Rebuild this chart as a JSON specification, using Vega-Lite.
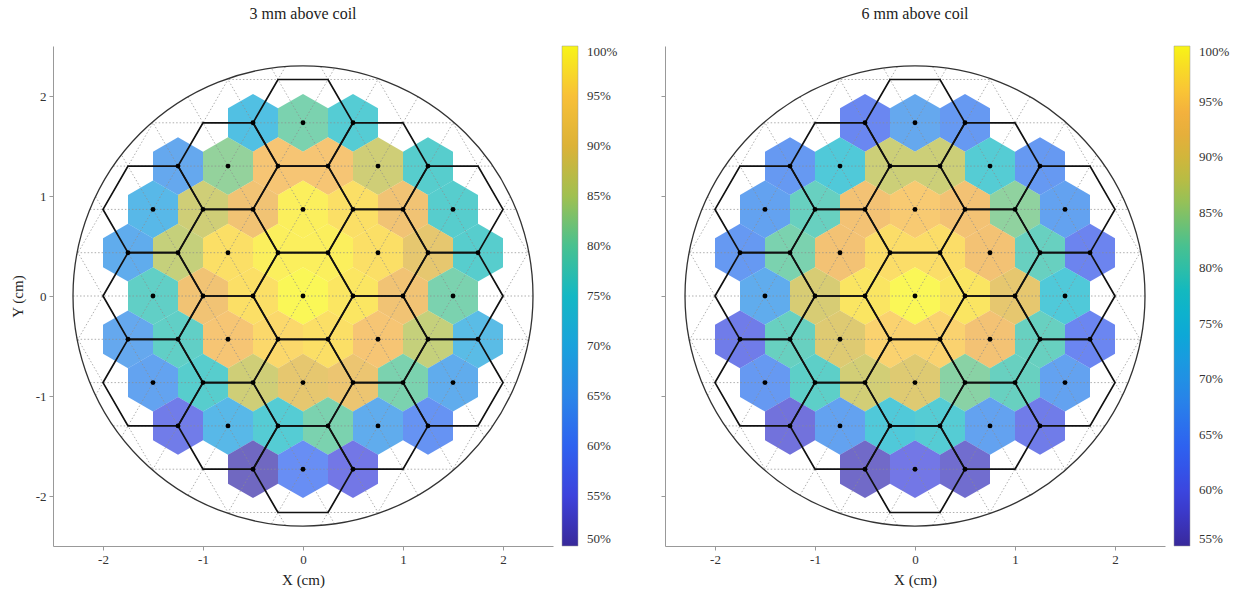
{
  "$schema": "https://vega.github.io/schema/vega-lite/v6.json",
  "background": "white",
  "padding": {"left": 10, "top": 6, "right": 5, "bottom": 5},
  "spacing": 42,
  "config": {
    "view": {"stroke": null},
    "font": "Liberation Serif",
    "axis": {"grid": false, "domainColor": "#999", "tickColor": "#999", "tickSize": 4, "labelFont": "Liberation Serif", "labelFontSize": 13, "labelColor": "#333", "titleFont": "Liberation Serif", "titleFontSize": 15, "titleFontWeight": "normal", "titleColor": "#222", "labelPadding": 3},
    "legend": {"labelFont": "Liberation Serif", "labelFontSize": 13, "labelColor": "#333"},
    "title": {"font": "Liberation Serif", "fontSize": 16, "fontWeight": "normal", "color": "#222", "anchor": "middle", "frame": "group"}
  },
  "datasets": {
    "left": [
      {"x": -0.5, "y": 1.7321, "v": 71}, {"x": 0, "y": 1.7321, "v": 80}, {"x": 0.5, "y": 1.7321, "v": 75},
      {"x": -1.25, "y": 1.299, "v": 65}, {"x": -0.75, "y": 1.299, "v": 82}, {"x": -0.25, "y": 1.299, "v": 93}, {"x": 0.25, "y": 1.299, "v": 93}, {"x": 0.75, "y": 1.299, "v": 87}, {"x": 1.25, "y": 1.299, "v": 76},
      {"x": -1.5, "y": 0.866, "v": 69}, {"x": -1, "y": 0.866, "v": 87}, {"x": -0.5, "y": 0.866, "v": 92}, {"x": 0, "y": 0.866, "v": 99}, {"x": 0.5, "y": 0.866, "v": 97}, {"x": 1, "y": 0.866, "v": 92}, {"x": 1.5, "y": 0.866, "v": 76},
      {"x": -1.75, "y": 0.433, "v": 66}, {"x": -1.25, "y": 0.433, "v": 86}, {"x": -0.75, "y": 0.433, "v": 97}, {"x": -0.25, "y": 0.433, "v": 99}, {"x": 0.25, "y": 0.433, "v": 99}, {"x": 0.75, "y": 0.433, "v": 97}, {"x": 1.25, "y": 0.433, "v": 90}, {"x": 1.75, "y": 0.433, "v": 76},
      {"x": -1.5, "y": 0, "v": 77}, {"x": -1, "y": 0, "v": 92}, {"x": -0.5, "y": 0, "v": 97}, {"x": 0, "y": 0, "v": 100}, {"x": 0.5, "y": 0, "v": 98}, {"x": 1, "y": 0, "v": 92}, {"x": 1.5, "y": 0, "v": 80},
      {"x": -1.75, "y": -0.433, "v": 65}, {"x": -1.25, "y": -0.433, "v": 77}, {"x": -0.75, "y": -0.433, "v": 93}, {"x": -0.25, "y": -0.433, "v": 96}, {"x": 0.25, "y": -0.433, "v": 97}, {"x": 0.75, "y": -0.433, "v": 93}, {"x": 1.25, "y": -0.433, "v": 86}, {"x": 1.75, "y": -0.433, "v": 70},
      {"x": -1.5, "y": -0.866, "v": 64}, {"x": -1, "y": -0.866, "v": 76}, {"x": -0.5, "y": -0.866, "v": 87}, {"x": 0, "y": -0.866, "v": 90}, {"x": 0.5, "y": -0.866, "v": 91}, {"x": 1, "y": -0.866, "v": 80}, {"x": 1.5, "y": -0.866, "v": 66},
      {"x": -1.25, "y": -1.299, "v": 56}, {"x": -0.75, "y": -1.299, "v": 69}, {"x": -0.25, "y": -1.299, "v": 75}, {"x": 0.25, "y": -1.299, "v": 80}, {"x": 0.75, "y": -1.299, "v": 66}, {"x": 1.25, "y": -1.299, "v": 61},
      {"x": -0.5, "y": -1.7321, "v": 51}, {"x": 0, "y": -1.7321, "v": 60}, {"x": 0.5, "y": -1.7321, "v": 55}
    ],
    "right": [
      {"x": -0.5, "y": 1.7321, "v": 62.7}, {"x": 0, "y": 1.7321, "v": 68.5}, {"x": 0.5, "y": 1.7321, "v": 66},
      {"x": -1.25, "y": 1.299, "v": 66}, {"x": -0.75, "y": 1.299, "v": 76.5}, {"x": -0.25, "y": 1.299, "v": 88}, {"x": 0.25, "y": 1.299, "v": 88}, {"x": 0.75, "y": 1.299, "v": 77.5}, {"x": 1.25, "y": 1.299, "v": 66},
      {"x": -1.5, "y": 0.866, "v": 67.5}, {"x": -1, "y": 0.866, "v": 80}, {"x": -0.5, "y": 0.866, "v": 93}, {"x": 0, "y": 0.866, "v": 94.5}, {"x": 0.5, "y": 0.866, "v": 93}, {"x": 1, "y": 0.866, "v": 83.5}, {"x": 1.5, "y": 0.866, "v": 67.5},
      {"x": -1.75, "y": 0.433, "v": 66}, {"x": -1.25, "y": 0.433, "v": 82}, {"x": -0.75, "y": 0.433, "v": 93}, {"x": -0.25, "y": 0.433, "v": 97}, {"x": 0.25, "y": 0.433, "v": 97}, {"x": 0.75, "y": 0.433, "v": 93}, {"x": 1.25, "y": 0.433, "v": 80}, {"x": 1.75, "y": 0.433, "v": 62},
      {"x": -1.5, "y": 0, "v": 69.5}, {"x": -1, "y": 0, "v": 89}, {"x": -0.5, "y": 0, "v": 98}, {"x": 0, "y": 0, "v": 100}, {"x": 0.5, "y": 0, "v": 98}, {"x": 1, "y": 0, "v": 91}, {"x": 1.5, "y": 0, "v": 76.5},
      {"x": -1.75, "y": -0.433, "v": 60.5}, {"x": -1.25, "y": -0.433, "v": 80}, {"x": -0.75, "y": -0.433, "v": 90}, {"x": -0.25, "y": -0.433, "v": 95.5}, {"x": 0.25, "y": -0.433, "v": 95.5}, {"x": 0.75, "y": -0.433, "v": 93}, {"x": 1.25, "y": -0.433, "v": 80}, {"x": 1.75, "y": -0.433, "v": 62.5},
      {"x": -1.5, "y": -0.866, "v": 66}, {"x": -1, "y": -0.866, "v": 79}, {"x": -0.5, "y": -0.866, "v": 88.5}, {"x": 0, "y": -0.866, "v": 90}, {"x": 0.5, "y": -0.866, "v": 83}, {"x": 1, "y": -0.866, "v": 80}, {"x": 1.5, "y": -0.866, "v": 67.5},
      {"x": -1.25, "y": -1.299, "v": 58.5}, {"x": -0.75, "y": -1.299, "v": 67.5}, {"x": -0.25, "y": -1.299, "v": 76.5}, {"x": 0.25, "y": -1.299, "v": 77.5}, {"x": 0.75, "y": -1.299, "v": 67.5}, {"x": 1.25, "y": -1.299, "v": 60.5},
      {"x": -0.5, "y": -1.7321, "v": 56.5}, {"x": 0, "y": -1.7321, "v": 59.5}, {"x": 0.5, "y": -1.7321, "v": 57}
    ],
    "coils": [
      {"x": 0, "y": 0}, {"x": 0, "y": 0.866}, {"x": 0, "y": -0.866}, {"x": 0, "y": 1.7321}, {"x": 0, "y": -1.7321},
      {"x": 0.75, "y": 0.433}, {"x": 0.75, "y": -0.433}, {"x": -0.75, "y": 0.433}, {"x": -0.75, "y": -0.433},
      {"x": 0.75, "y": 1.299}, {"x": 0.75, "y": -1.299}, {"x": -0.75, "y": 1.299}, {"x": -0.75, "y": -1.299},
      {"x": 1.5, "y": 0}, {"x": -1.5, "y": 0}, {"x": 1.5, "y": 0.866}, {"x": 1.5, "y": -0.866}, {"x": -1.5, "y": 0.866}, {"x": -1.5, "y": -0.866}
    ],
    "circ": [{"x": 0, "y": 0}],
    "segs": [
      {"x": -2.3, "y": 0, "x2": 2.3, "y2": 0},
      {"x": -2.2589, "y": 0.433, "x2": 2.2589, "y2": 0.433},
      {"x": -2.2589, "y": -0.433, "x2": 2.2589, "y2": -0.433},
      {"x": -2.1307, "y": 0.866, "x2": 2.1307, "y2": 0.866},
      {"x": -2.1307, "y": -0.866, "x2": 2.1307, "y2": -0.866},
      {"x": -1.898, "y": 1.299, "x2": 1.898, "y2": 1.299},
      {"x": -1.898, "y": -1.299, "x2": 1.898, "y2": -1.299},
      {"x": -1.5133, "y": 1.7321, "x2": 1.5133, "y2": 1.7321},
      {"x": -1.5133, "y": -1.7321, "x2": 1.5133, "y2": -1.7321},
      {"x": -0.7762, "y": 2.1651, "x2": 0.7762, "y2": 2.1651},
      {"x": -0.7762, "y": -2.1651, "x2": 0.7762, "y2": -2.1651},
      {"x": -1.15, "y": -1.9919, "x2": 1.15, "y2": 1.9919},
      {"x": -0.7545, "y": -2.1728, "x2": 1.5045, "y2": 1.7398},
      {"x": -1.5045, "y": -1.7398, "x2": 0.7545, "y2": 2.1728},
      {"x": -0.3154, "y": -2.2782, "x2": 1.8154, "y2": 1.4122},
      {"x": -1.8154, "y": -1.4122, "x2": 0.3154, "y2": 2.2782},
      {"x": 0.176, "y": -2.2932, "x2": 2.074, "y2": 0.9942},
      {"x": -2.074, "y": -0.9942, "x2": -0.176, "y2": 2.2932},
      {"x": 0.7434, "y": -2.1765, "x2": 2.2566, "y2": 0.4445},
      {"x": -2.2566, "y": -0.4445, "x2": -0.7434, "y2": 2.1765},
      {"x": 1.4869, "y": -1.7547, "x2": 2.2631, "y2": -0.4103},
      {"x": -2.2631, "y": 0.4103, "x2": -1.4869, "y2": 1.7547},
      {"x": 1.15, "y": -1.9919, "x2": -1.15, "y2": 1.9919},
      {"x": 0.7545, "y": -2.1728, "x2": -1.5045, "y2": 1.7398},
      {"x": 1.5045, "y": -1.7398, "x2": -0.7545, "y2": 2.1728},
      {"x": 0.3154, "y": -2.2782, "x2": -1.8154, "y2": 1.4122},
      {"x": 1.8154, "y": -1.4122, "x2": -0.3154, "y2": 2.2782},
      {"x": -0.176, "y": -2.2932, "x2": -2.074, "y2": 0.9942},
      {"x": 2.074, "y": -0.9942, "x2": 0.176, "y2": 2.2932},
      {"x": -0.7434, "y": -2.1765, "x2": -2.2566, "y2": 0.4445},
      {"x": 2.2566, "y": -0.4445, "x2": 0.7434, "y2": 2.1765},
      {"x": -1.4869, "y": -1.7547, "x2": -2.2631, "y2": -0.4103},
      {"x": 2.2631, "y": 0.4103, "x2": 1.4869, "y2": 1.7547}
    ]
  },
  "resolve": {"scale": {"color": "independent"}},
  "hconcat": [
    {
      "width": 500, "height": 500,
      "title": {"text": "3 mm above coil", "offset": 24},
      "layer": [
        {
          "data": {"name": "left"},
          "mark": {"type": "point", "shape": "M0,-1.1547L1,-0.57735L1,0.57735L0,1.1547L-1,0.57735L-1,-0.57735Z", "size": 2500, "filled": true, "opacity": 1, "fillOpacity": 0.72, "strokeWidth": 0},
          "encoding": {
            "x": {"field": "x", "type": "quantitative", "scale": {"domain": [-2.5, 2.5], "nice": false, "zero": false}, "axis": {"values": [-2, -1, 0, 1, 2], "labelExpr": "datum.value < 0 ? '-' + abs(datum.value) : '' + datum.value", "title": "X (cm)", "titlePadding": 6}},
            "y": {"field": "y", "type": "quantitative", "scale": {"domain": [-2.5, 2.5], "nice": false, "zero": false}, "axis": {"values": [-2, -1, 0, 1, 2], "labelExpr": "datum.value < 0 ? '-' + abs(datum.value) : '' + datum.value", "title": "Y (cm)", "titlePadding": 10}},
            "color": {"field": "v", "type": "quantitative",
              "scale": {"domain": [50, 100], "range": ["#38299a", "#3a35c0", "#3d42dc", "#3452e8", "#2e62f0", "#2c74ec", "#2a86e8", "#2294e2", "#1aa2dc", "#16aed0", "#14b8c4", "#2cbdaa", "#48c190", "#74c170", "#a0c050", "#c4ba40", "#dcb238", "#f0aa40", "#f8c038", "#f8d828", "#f8f416"]},
              "legend": {"type": "gradient", "title": null, "gradientLength": 500, "gradientThickness": 16, "values": [50, 55, 60, 65, 70, 75, 80, 85, 90, 95, 100], "labelExpr": "datum.value + '%'", "offset": 9, "labelOffset": 9, "labelBaseline": "middle", "labelOverlap": false, "gradientStrokeColor": "#999", "gradientStrokeWidth": 0.5}}
          }
        },
        {
          "data": {"name": "segs"},
          "mark": {"type": "rule", "strokeDash": [1.5, 2], "color": "#8c8c8c", "strokeWidth": 0.7},
          "encoding": {"x": {"field": "x", "type": "quantitative"}, "y": {"field": "y", "type": "quantitative"}, "x2": {"field": "x2"}, "y2": {"field": "y2"}}
        },
        {
          "data": {"name": "coils"},
          "mark": {"type": "point", "shape": "M1,0L0.5,0.86603L-0.5,0.86603L-1,0L-0.5,-0.86603L0.5,-0.86603Z", "size": 10000, "filled": false, "stroke": "#111", "strokeWidth": 1.7, "opacity": 1},
          "encoding": {"x": {"field": "x", "type": "quantitative"}, "y": {"field": "y", "type": "quantitative"}}
        },
        {
          "data": {"name": "left"},
          "mark": {"type": "point", "shape": "circle", "size": 24, "filled": true, "color": "#000", "opacity": 1},
          "encoding": {"x": {"field": "x", "type": "quantitative"}, "y": {"field": "y", "type": "quantitative"}}
        },
        {
          "data": {"name": "circ"},
          "mark": {"type": "point", "shape": "circle", "size": 211600, "filled": false, "stroke": "#333", "strokeWidth": 1.3, "opacity": 1},
          "encoding": {"x": {"field": "x", "type": "quantitative"}, "y": {"field": "y", "type": "quantitative"}}
        }
      ]
    },
    {
      "width": 500, "height": 500,
      "title": {"text": "6 mm above coil", "offset": 24},
      "layer": [
        {
          "data": {"name": "right"},
          "mark": {"type": "point", "shape": "M0,-1.1547L1,-0.57735L1,0.57735L0,1.1547L-1,0.57735L-1,-0.57735Z", "size": 2500, "filled": true, "opacity": 1, "fillOpacity": 0.72, "strokeWidth": 0},
          "encoding": {
            "x": {"field": "x", "type": "quantitative", "scale": {"domain": [-2.5, 2.5], "nice": false, "zero": false}, "axis": {"values": [-2, -1, 0, 1, 2], "labelExpr": "datum.value < 0 ? '-' + abs(datum.value) : '' + datum.value", "title": "X (cm)", "titlePadding": 6}},
            "y": {"field": "y", "type": "quantitative", "scale": {"domain": [-2.5, 2.5], "nice": false, "zero": false}, "axis": {"values": [-2, -1, 0, 1, 2], "labels": false, "title": null}},
            "color": {"field": "v", "type": "quantitative",
              "scale": {"domain": [55, 100], "range": ["#38299a", "#3a35c0", "#3d42dc", "#3452e8", "#2e62f0", "#2c74ec", "#2a86e8", "#2294e2", "#1aa2dc", "#16aed0", "#14b8c4", "#2cbdaa", "#48c190", "#74c170", "#a0c050", "#c4ba40", "#dcb238", "#f0aa40", "#f8c038", "#f8d828", "#f8f416"]},
              "legend": {"type": "gradient", "title": null, "gradientLength": 500, "gradientThickness": 16, "values": [55, 60, 65, 70, 75, 80, 85, 90, 95, 100], "labelExpr": "datum.value + '%'", "offset": 9, "labelOffset": 9, "labelBaseline": "middle", "labelOverlap": false, "gradientStrokeColor": "#999", "gradientStrokeWidth": 0.5}}
          }
        },
        {
          "data": {"name": "segs"},
          "mark": {"type": "rule", "strokeDash": [1.5, 2], "color": "#8c8c8c", "strokeWidth": 0.7},
          "encoding": {"x": {"field": "x", "type": "quantitative"}, "y": {"field": "y", "type": "quantitative"}, "x2": {"field": "x2"}, "y2": {"field": "y2"}}
        },
        {
          "data": {"name": "coils"},
          "mark": {"type": "point", "shape": "M1,0L0.5,0.86603L-0.5,0.86603L-1,0L-0.5,-0.86603L0.5,-0.86603Z", "size": 10000, "filled": false, "stroke": "#111", "strokeWidth": 1.7, "opacity": 1},
          "encoding": {"x": {"field": "x", "type": "quantitative"}, "y": {"field": "y", "type": "quantitative"}}
        },
        {
          "data": {"name": "right"},
          "mark": {"type": "point", "shape": "circle", "size": 24, "filled": true, "color": "#000", "opacity": 1},
          "encoding": {"x": {"field": "x", "type": "quantitative"}, "y": {"field": "y", "type": "quantitative"}}
        },
        {
          "data": {"name": "circ"},
          "mark": {"type": "point", "shape": "circle", "size": 211600, "filled": false, "stroke": "#333", "strokeWidth": 1.3, "opacity": 1},
          "encoding": {"x": {"field": "x", "type": "quantitative"}, "y": {"field": "y", "type": "quantitative"}}
        }
      ]
    }
  ]
}
